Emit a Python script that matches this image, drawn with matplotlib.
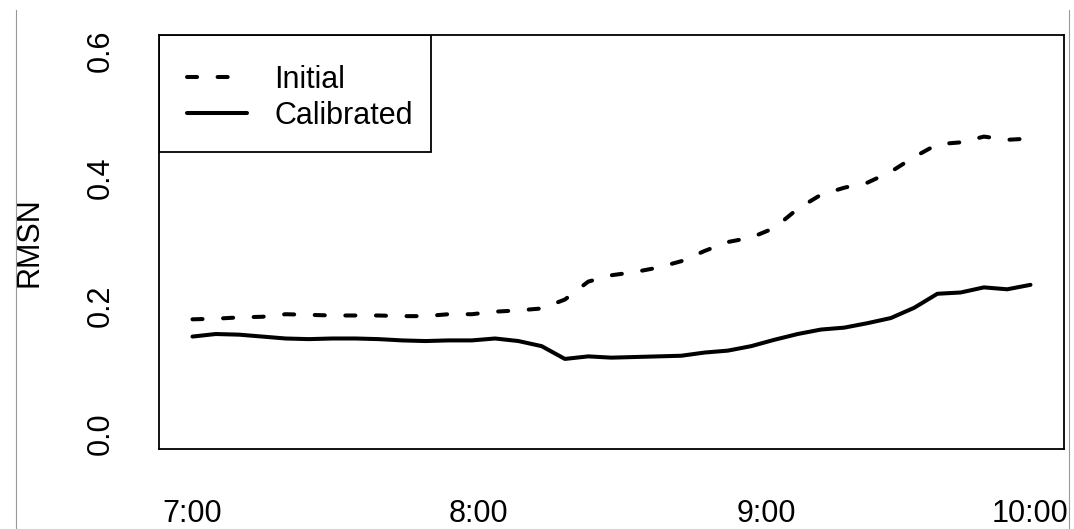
import matplotlib
matplotlib.use('Agg')
import matplotlib.pyplot as plt
from matplotlib.lines import Line2D
from matplotlib.patches import Rectangle
import numpy as np

# 5-minute intervals from 7:00 to 10:00
steps = np.arange(37)
initial = [0.179, 0.180, 0.182, 0.183, 0.187, 0.186, 0.185, 0.185, 0.185, 0.184,
           0.184, 0.187, 0.187, 0.191, 0.193, 0.196, 0.210, 0.238, 0.248, 0.253,
           0.260, 0.270, 0.286, 0.300, 0.307, 0.322, 0.352, 0.374, 0.385, 0.393,
           0.410, 0.433, 0.453, 0.456, 0.465, 0.460, 0.462]
calibrated = [0.152, 0.156, 0.155, 0.152, 0.149, 0.148, 0.149, 0.149, 0.148, 0.146,
              0.145, 0.146, 0.146, 0.149, 0.145, 0.137, 0.117, 0.121, 0.119, 0.120,
              0.121, 0.122, 0.127, 0.130, 0.137, 0.147, 0.156, 0.163, 0.166, 0.173,
              0.181, 0.197, 0.219, 0.221, 0.229, 0.226, 0.233]
xtick_pos = [0, 12.3, 24.65, 36]
xtick_labels = ['7:00', '8:00', '9:00', '10:00']
ytick_pos = [0.0, 0.2, 0.4, 0.6]
ytick_labels = ['0.0', '0.2', '0.4', '0.6']

plt.rcParams['font.family'] = ['Liberation Sans', 'DejaVu Sans']

fig = plt.figure(figsize=(10.74, 5.29), dpi=100)
ax = fig.add_axes([0.148, 0.1512, 0.8427, 0.7826])

lw = 2.9
ax.plot(steps, initial, color='black', lw=lw, linestyle=(0, (2.5, 5.1)),
        dash_capstyle='round', solid_capstyle='round', label='Initial')
ax.plot(steps, calibrated, color='black', lw=lw, solid_capstyle='round',
        solid_joinstyle='round', label='Calibrated')

ax.set_xlim(-1.44, 37.44)
ax.set_ylim(-0.024, 0.624)

ax.set_xticks(xtick_pos)
ax.set_xticklabels(xtick_labels, fontsize=22)
ax.set_yticks(ytick_pos)
ax.set_yticklabels(ytick_labels, fontsize=22, rotation=90, va='center')
ax.tick_params(axis='both', length=0)
ax.tick_params(axis='x', pad=36)
ax.tick_params(axis='y', pad=31)

ax.set_ylabel('RMSN', fontsize=22)
ax.yaxis.set_label_coords(-0.127, 0.5)

for s in ax.spines.values():
  s.set_linewidth(1.3)

# legend box drawn separately so the entries sit where R put them
ax.add_patch(Rectangle((0, 0.7174), 0.301, 0.2826, transform=ax.transAxes,
                       fill=False, edgecolor='black', lw=1.3, zorder=5))
leg = ax.legend(loc='upper left', bbox_to_anchor=(0.0044, 0.9867), borderaxespad=0,
                fontsize=22, handlelength=1.95, handletextpad=0.9,
                labelspacing=0.2, borderpad=0.8, frameon=False)

# thin grey page borders seen in the screenshot
fig.add_artist(Line2D([15.5/1074, 15.5/1074], [0, 1 - 10/529], color='#999999', lw=0.8))
fig.add_artist(Line2D([1069/1074, 1069/1074], [0, 1 - 10/529], color='#999999', lw=0.8))

fig.savefig('out.png', dpi=100)
plt.close()
